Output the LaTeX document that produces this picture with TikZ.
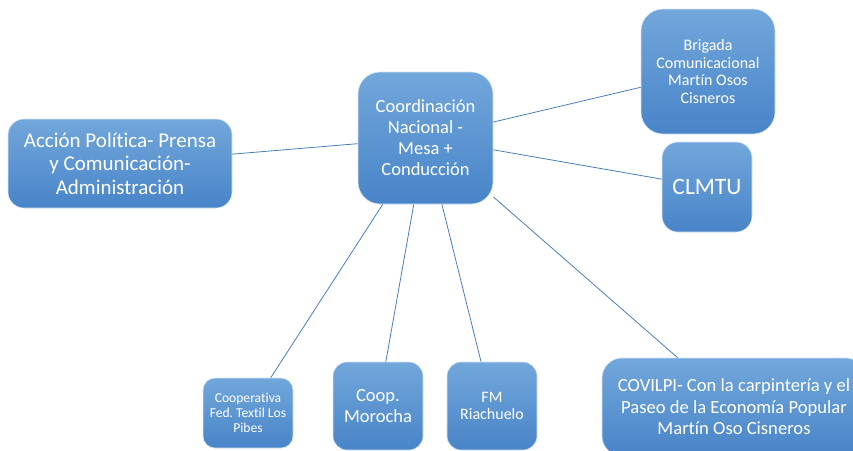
\documentclass[tikz,border=0pt]{standalone}
\usepackage{fontspec}
\setmainfont{Carlito}[Ligatures=NoCommon]
\definecolor{boxtop}{HTML}{72A7DB}
\definecolor{boxbottom}{HTML}{4884C8}
\definecolor{boxedge}{HTML}{D6E4F3}
\definecolor{linkblue}{HTML}{4A7EBB}
\tikzstyle{block} = [rectangle, draw=boxedge, line width=0.6pt, top color=boxtop,
    bottom color=boxbottom, text=white, align=center, inner sep=0pt, rounded corners=16pt]
\tikzstyle{line} = [draw=linkblue, line width=0.8pt]

\begin{document}
\begin{tikzpicture}[x=1pt, y=-1pt]
	\path[use as bounding box, clip] (0,0) rectangle (853,450);

		\node [block, minimum width=135pt, minimum height=132pt, rounded corners=22pt,
			font={\fontsize{18.5}{21}\selectfont}] (coord) at (425.5,138)
			{Coordinación\\Nacional -\\Mesa +\\Conducción};

		\node [block, minimum width=224pt, minimum height=89pt,
			font={\fontsize{21}{23.5}\selectfont}] (accion) at (120,163.5)
			{Acción Política- Prensa\\y Comunicación-\\Administración};
		\node [block, minimum width=134pt, minimum height=125pt, rounded corners=22pt,
			font={\fontsize{16}{17.5}\selectfont}] (brigada) at (708,71.5)
			{Brigada\\Comunicacional\\Martín Osos\\Cisneros};
		\node [block, minimum width=90pt, minimum height=90pt,
			font={\fontsize{23.5}{27}\selectfont}] (clmtu) at (707,187) {CLMTU};
		\node [block, minimum width=90pt, minimum height=70pt, rounded corners=12pt,
			font={\fontsize{13.6}{15}\selectfont}] (textil) at (248,413)
			{Cooperativa\\Fed.\ Textil Los\\Pibes};
		\node [block, minimum width=90pt, minimum height=88pt, rounded corners=14pt,
			font={\fontsize{18.5}{21}\selectfont}] (morocha) at (378,406)
			{Coop.\\Morocha};
		\node [block, minimum width=90pt, minimum height=88pt, rounded corners=14pt,
			font={\fontsize{16}{16.5}\selectfont}] (fm) at (492,406)
			{FM\\Riachuelo};
		\node [block, minimum width=264pt, minimum height=98pt, rounded corners=20pt,
			font={\fontsize{18.6}{21.5}\selectfont}] (covilpi) at (734,407)
			{COVILPI- Con la carpintería y el\\Paseo de la Economía Popular\\Martín Oso Cisneros};

		\path [line] (coord) -- (accion);
		\path [line] (coord) -- (brigada);
		\path [line] (coord) -- (clmtu);
		\path [line] (coord) -- (textil);
		\path [line] (coord) -- (morocha);
		\path [line] (coord) -- (fm);
		\path [line] (coord) -- (covilpi);
	\end{tikzpicture}
\end{document}
